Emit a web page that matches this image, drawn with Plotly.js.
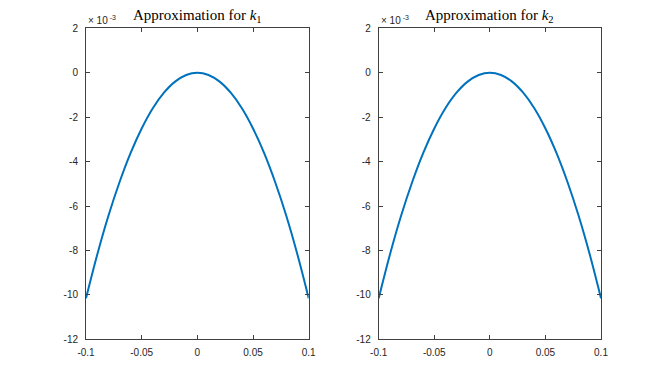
<!DOCTYPE html>
<html>
<head>
<meta charset="utf-8">
<script src="https://cdn.plot.ly/plotly-3.0.1.min.js"></script>
<style>html,body{margin:0;padding:0;background:#fff;}#chart{width:664px;height:381px;}</style>
</head>
<body>
<div id="chart"></div>
<script>
// Data (y values in units of 1e-3, as shown by the axis multiplier)
const xValues = [-0.1,-0.09,-0.08,-0.07,-0.06,-0.05,-0.04,-0.03,-0.02,-0.01,0,0.01,0.02,0.03,0.04,0.05,0.06,0.07,0.08,0.09,0.1];
const k1Values = [-10.15,-8.20,-6.46,-4.94,-3.62,-2.51,-1.60,-0.90,-0.40,-0.10,0,-0.10,-0.40,-0.90,-1.60,-2.51,-3.62,-4.94,-6.46,-8.20,-10.15];
const k2Values = [-10.15,-8.20,-6.46,-4.94,-3.62,-2.51,-1.60,-0.90,-0.40,-0.10,0,-0.10,-0.40,-0.90,-1.60,-2.51,-3.62,-4.94,-6.46,-8.20,-10.15];
const xTickVals = [-0.1,-0.05,0,0.05,0.1];
const xTickText = ["-0.1","-0.05","0","0.05","0.1"];
const yTickVals = [2,0,-2,-4,-6,-8,-10,-12];
const yTickText = ["2","0","-2","-4","-6","-8","-10","-12"];
const titles = ["Approximation for <i>k</i><sub>1</sub>","Approximation for <i>k</i><sub>2</sub>"];
const multiplier = "× 10<sup> -3</sup>";

const lineColor = "#0072BD";
const axColor = "#404040";
const tickFont = {family:"Liberation Sans, Arial, sans-serif", size:10, color:"#262626"};

function xaxis(domain){
  return {domain:domain, range:[-0.1,0.1], tickvals:xTickVals, ticktext:xTickText,
    ticks:"inside", ticklen:4, tickcolor:axColor, showline:true, linecolor:axColor, linewidth:1,
    mirror:"allticks", showgrid:false, zeroline:false, tickfont:tickFont, ticklabelstandoff:4, fixedrange:true};
}
function yaxis(domain, anchor){
  return {domain:domain, range:[-12,2], tickvals:yTickVals, ticktext:yTickText, anchor:anchor,
    ticks:"inside", ticklen:4, tickcolor:axColor, showline:true, linecolor:axColor, linewidth:1,
    mirror:"allticks", showgrid:false, zeroline:false, tickfont:tickFont, ticklabelstandoff:5, fixedrange:true};
}

const W = 664, H = 381;
const yDom = [1-339.3/H, 1-28.3/H];
const xDom1 = [86/W, 308.7/W];
const xDom2 = [378.7/W, 601/W];

const data = [
  {x:xValues, y:k1Values, type:"scatter", mode:"lines", line:{color:lineColor, width:2, shape:"spline"}, xaxis:"x", yaxis:"y", hoverinfo:"skip"},
  {x:xValues, y:k2Values, type:"scatter", mode:"lines", line:{color:lineColor, width:2, shape:"spline"}, xaxis:"x2", yaxis:"y2", hoverinfo:"skip"}
];

const titleFont = {family:"Liberation Serif, DejaVu Serif, serif", size:15, color:"#000"};
const multFont = {family:"Liberation Sans, Arial, sans-serif", size:10, color:"#262626"};

const layout = {
  width:W, height:H, margin:{l:0,r:0,t:0,b:0}, paper_bgcolor:"#fff", plot_bgcolor:"#fff",
  showlegend:false,
  xaxis:xaxis(xDom1), yaxis:yaxis(yDom,"x"),
  xaxis2:xaxis(xDom2), yaxis2:yaxis(yDom,"x2"),
  annotations:[
    {text:titles[0], xref:"paper", yref:"paper", x:(xDom1[0]+xDom1[1])/2, y:1-16/H, xanchor:"center", yanchor:"middle", showarrow:false, font:titleFont},
    {text:titles[1], xref:"paper", yref:"paper", x:(xDom2[0]+xDom2[1])/2, y:1-16/H, xanchor:"center", yanchor:"middle", showarrow:false, font:titleFont},
    {text:multiplier, xref:"paper", yref:"paper", x:86/W, y:1-20/H, xanchor:"left", yanchor:"middle", showarrow:false, font:multFont},
    {text:multiplier, xref:"paper", yref:"paper", x:378.7/W, y:1-20/H, xanchor:"left", yanchor:"middle", showarrow:false, font:multFont}
  ]
};

Plotly.newPlot("chart", data, layout, {staticPlot:true, displayModeBar:false});
</script>
</body>
</html>
